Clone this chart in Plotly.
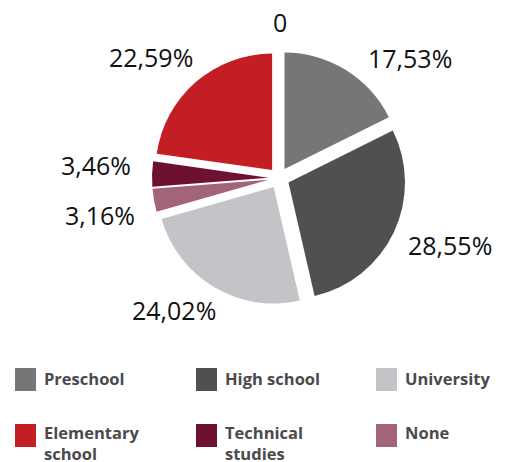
import plotly.graph_objects as go

# slice order clockwise from 12 o'clock
labels = ["Preschool", "High school", "University", "None", "Technical studies", "Elementary school", "Other"]
values = [17.53, 28.55, 24.02, 3.16, 3.46, 22.59, 0]
texts = ["17,53%", "28,55%", "24,02%", "3,16%", "3,46%", "22,59%", "0"]
colors = ["#767678", "#505052", "#c4c4c8", "#a3637a", "#6e1030", "#c31e23", "#ffffff"]

# legend (row-major, 3 columns)
legend_labels = ["Preschool", "High school", "University",
                 "Elementary<br>school", "Technical<br>studies", "None"]
legend_colors = ["#767678", "#505052", "#c4c4c8", "#c31e23", "#6e1030", "#a3637a"]

W, H = 508, 462

# where the value labels sit (pixels from top-left), same order as texts
label_xy = [(410, 58), (450, 245), (174, 310), (100, 215), (96, 165), (151, 57), (280, 22)]

cx, cy, rad = 279, 178, 127

fig = go.Figure(go.Pie(
    labels=labels,
    values=values,
    text=texts,
    textinfo="none",
    sort=False,
    direction="clockwise",
    rotation=0,
    pull=0.09,
    marker=dict(colors=colors, line=dict(width=0)),
    domain=dict(x=[(cx - rad) / W, (cx + rad) / W], y=[1 - (cy + rad) / H, 1 - (cy - rad) / H]),
    showlegend=False,
    hoverinfo="label+text",
))

for t, (x, y) in zip(texts, label_xy):
    fig.add_annotation(xref="paper", yref="paper", x=x / W, y=1 - y / H,
                       xanchor="center", yanchor="middle", text=t, showarrow=False,
                       font=dict(family="Open Sans", size=25, color="#111111"))

# hand-made legend
col_x = [15, 196, 376]
row_y = [368, 424]
text_dy = [-3, -5]
for i, (lab, col) in enumerate(zip(legend_labels, legend_colors)):
    lx = col_x[i % 3]
    ly = row_y[i // 3]
    fig.add_shape(type="rect", xref="paper", yref="paper",
                  x0=lx / W, x1=(lx + 21) / W,
                  y0=1 - (ly + 23) / H, y1=1 - ly / H,
                  fillcolor=col, line=dict(width=0))
    fig.add_annotation(xref="paper", yref="paper",
                       x=(lx + 27) / W, y=1 - (ly + text_dy[i // 3]) / H,
                       xanchor="left", yanchor="top", align="left",
                       text="<b>" + lab + "</b>", showarrow=False,
                       font=dict(family="Open Sans", size=16.5, color="#4a4a4c"))

fig.update_layout(
    width=W, height=H,
    margin=dict(l=0, r=0, t=0, b=0),
    paper_bgcolor="white",
    plot_bgcolor="white",
)

fig.write_html("out.html", config={"displayModeBar": False},
               post_script="document.body.style.margin='0';")
